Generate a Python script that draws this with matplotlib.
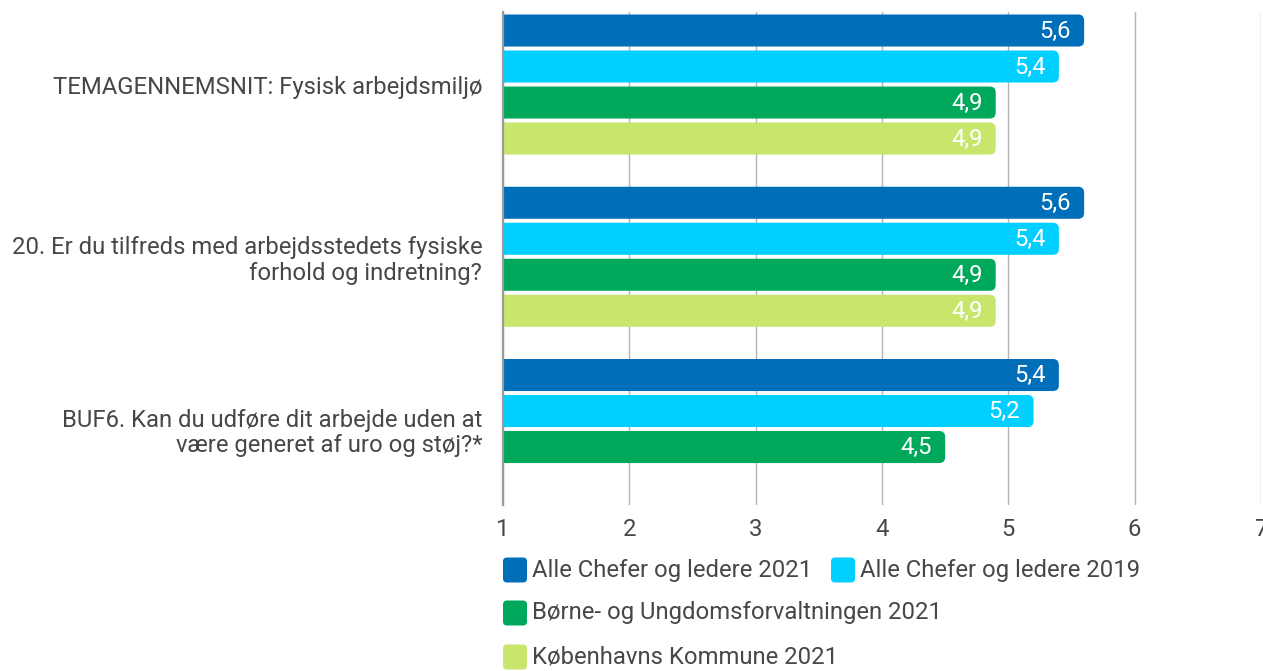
import matplotlib
matplotlib.use("Agg")
import matplotlib.pyplot as plt
from matplotlib.patches import FancyBboxPatch
import numpy as np

plt.rcParams['font.family'] = ['Roboto', 'DejaVu Sans']

categories = [
    "TEMAGENNEMSNIT: Fysisk arbejdsmiljø",
    "20. Er du tilfreds med arbejdsstedets fysiske\nforhold og indretning?",
    "BUF6. Kan du udføre dit arbejde uden at\nvære generet af uro og støj?*",
]
series_names = [
    "Alle Chefer og ledere 2021",
    "Alle Chefer og ledere 2019",
    "Børne- og Ungdomsforvaltningen 2021",
    "Københavns Kommune 2021",
]
alle_2021 = [5.6, 5.6, 5.4]
alle_2019 = [5.4, 5.4, 5.2]
buf_2021 = [4.9, 4.9, 4.5]
kk_2021 = [4.9, 4.9, None]
x_ticks = [1, 2, 3, 4, 5, 6, 7]

series_values = [alle_2021, alle_2019, buf_2021, kk_2021]
colors = ["#006eb8", "#00cfff", "#00a85c", "#c8e66b"]
text_color = "#474747"
fs = 17.2

W, H = 1263, 671
fig = plt.figure(figsize=(W / 100, H / 100), dpi=100)
ax = fig.add_axes([503 / W, 1 - 505 / H, (1261 - 503) / W, (505 - 12) / H])

xmin, xmax = 1, 7
ax.set_xlim(xmin, xmax)
ax.set_ylim(2.441, -0.421)

slot = 0.209
bar_h = 0.186
px_x = (1261 - 503) / 6.0
px_y = 172.3
aspect = px_x / px_y
r = 6 / px_x

for si, vals in enumerate(series_values):
    for gi, v in enumerate(vals):
        if v is None:
            continue
        yc = gi + (si - 1.5) * slot
        patch = FancyBboxPatch((xmin - 0.1, yc - bar_h / 2), v - xmin + 0.1, bar_h,
                               boxstyle=f"round,pad=0,rounding_size={r}",
                               mutation_aspect=aspect,
                               facecolor=colors[si], edgecolor="none", zorder=3)
        ax.add_patch(patch)
        ax.text(v - 0.105, yc + 0.005, f"{v:.1f}".replace(".", ","), ha="right", va="center",
                color="white", fontsize=fs, zorder=4)

ax.set_yticks(range(len(categories)))
ax.set_yticklabels(categories, fontsize=fs, color=text_color, linespacing=1.15, ha="right")
for lbl in ax.get_yticklabels():
    lbl.set_multialignment("right")
ax.tick_params(axis="y", length=0, pad=15)

ax.set_xticks(x_ticks)
ax.set_xticklabels([str(t) for t in x_ticks], fontsize=fs, color=text_color)
ax.tick_params(axis="x", length=0, pad=9)

ax.grid(axis="x", color="#b4b4b4", linewidth=1.0, zorder=0)
for s in ["top", "right", "bottom"]:
    ax.spines[s].set_visible(False)
ax.spines["left"].set_color("#9a9a9a")
ax.spines["left"].set_linewidth(1.6)
ax.spines["left"].set_zorder(5)

# Legend (manual, wrapped layout)
legend_pos = [(503, 570), (831, 570), (503, 613), (503, 657)]
for (lx, ly), name, col in zip(legend_pos, series_names, colors):
    sq_w, sq_h = 24, 25
    fig.patches.append(FancyBboxPatch((lx / W, 1 - (ly + sq_h / 2) / H), sq_w / W, sq_h / H,
                                      boxstyle=f"round,pad=0,rounding_size={4 / W}",
                                      mutation_aspect=W / H,
                                      transform=fig.transFigure, facecolor=col,
                                      edgecolor="none"))
    fig.text((lx + sq_w + 5) / W, 1 - ly / H, name, ha="left", va="center",
             fontsize=fs, color=text_color)

fig.savefig("out.png", dpi=100)
